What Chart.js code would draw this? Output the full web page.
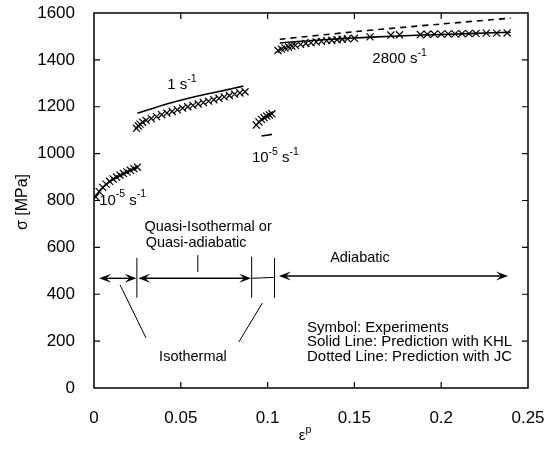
<!DOCTYPE html>
<html>
<head>
<meta charset="utf-8">
<script src="https://cdn.jsdelivr.net/npm/chart.js"></script>
<style>
    body { margin: 0; background: #fff; }
    #wrap { width: 559px; height: 450px; }
</style>
</head>
<body>
<div id="wrap"><canvas id="stressChart" width="559" height="450"></canvas></div>
<script>
    // tick labels
    const xTicks = [0, 0.05, 0.1, 0.15, 0.2, 0.25];
    const yTicks = [0, 200, 400, 600, 800, 1000, 1200, 1400, 1600];

    // 10^-5 s^-1 (first loading)
    const expAx = [0.001, 0.003, 0.005, 0.007, 0.009, 0.011, 0.013, 0.015, 0.017, 0.019, 0.021, 0.023, 0.025];
    const expAy = [815, 838, 856, 870, 882, 892, 900, 908, 915, 922, 929, 936, 942];
    const khlAx = [0.0, 0.005, 0.01, 0.015, 0.02, 0.025];
    const khlAy = [810, 855, 885, 905, 925, 942];

    // 1 s^-1
    const expBx = [0.0245, 0.0255, 0.0265, 0.028, 0.030, 0.033, 0.036, 0.039, 0.042, 0.045, 0.048, 0.051,
                   0.054, 0.057, 0.060, 0.063, 0.066, 0.069, 0.072, 0.075, 0.078, 0.081, 0.084, 0.087];
    const expBy = [1108, 1118, 1126, 1134, 1142, 1150, 1158, 1166, 1173, 1180, 1187, 1194,
                   1200, 1206, 1212, 1218, 1224, 1230, 1236, 1242, 1248, 1254, 1259, 1264];
    const khlBx = [0.025, 0.035, 0.045, 0.055, 0.065, 0.075, 0.086];
    const khlBy = [1172, 1196, 1218, 1237, 1254, 1270, 1288];

    // 10^-5 s^-1 (reloading)
    const expCx = [0.0935, 0.095, 0.0965, 0.098, 0.0995, 0.101, 0.1025];
    const expCy = [1122, 1135, 1146, 1153, 1160, 1165, 1170];
    const khlCx = [0.0965, 0.1025];
    const khlCy = [1075, 1082];

    // 2800 s^-1
    const expDx = [0.106, 0.108, 0.110, 0.112, 0.114, 0.116, 0.119, 0.122, 0.125, 0.128, 0.131, 0.134, 0.137, 0.140,
                   0.143, 0.146, 0.150, 0.159, 0.171, 0.176, 0.188, 0.192, 0.196, 0.200, 0.204, 0.208, 0.212,
                   0.216, 0.220, 0.226, 0.232, 0.238];
    const expDy = [1440, 1446, 1451, 1455, 1459, 1462, 1466, 1470, 1473, 1476, 1479, 1482, 1484, 1486,
                   1488, 1490, 1492, 1498, 1506, 1507, 1508, 1509, 1510, 1510, 1511, 1511, 1512,
                   1512, 1513, 1514, 1514, 1515];
    const khlDx = [0.107, 0.13, 0.16, 0.19, 0.22, 0.24];
    const khlDy = [1472, 1485, 1497, 1506, 1513, 1518];
    const jcDx = [0.107, 0.15, 0.2, 0.24];
    const jcDy = [1488, 1520, 1553, 1578];

    function pts(xs, ys) { return xs.map((x, i) => ({x: x, y: ys[i]})); }

    function markers(xs, ys) {
        return { data: pts(xs, ys), showLine: false, pointStyle: 'crossRot', pointRadius: 5,
                 borderColor: '#000', borderWidth: 1.2, backgroundColor: '#000' };
    }
    function curve(xs, ys, dash) {
        return { data: pts(xs, ys), showLine: true, pointRadius: 0, borderColor: '#000',
                 borderWidth: 1.6, borderDash: dash || [], tension: 0.3 };
    }

    // annotation arrows / lines (data coords)
    const arrows = [
        [0.003, 0.0245, 468],
        [0.0255, 0.0905, 468],
        [0.1065, 0.2385, 478]
    ];
    const plainLines = [
        [0.0905, 468, 0.104, 472],
        [0.0247, 555, 0.0247, 385],
        [0.0908, 560, 0.0908, 385],
        [0.104, 555, 0.104, 385],
        [0.0598, 567, 0.0598, 495],
        [0.015, 440, 0.030, 213],
        [0.097, 363, 0.0834, 196]
    ];

    const FONT = '"Liberation Sans", Arial, sans-serif';

    function drawParts(ctx, parts, x, y, size, align) {
        // parts: [text, isSup]
        let w = 0;
        parts.forEach(p => {
            ctx.font = (p[1] ? size * 0.7 : size) + 'px ' + FONT;
            w += ctx.measureText(p[0]).width;
        });
        let cx = align === 'left' ? x : x - w / 2;
        parts.forEach(p => {
            ctx.font = (p[1] ? size * 0.7 : size) + 'px ' + FONT;
            ctx.fillText(p[0], cx, p[1] ? y - size * 0.4 : y);
            cx += ctx.measureText(p[0]).width;
        });
    }

    function arrowHead(ctx, x, y, dir) {
        ctx.beginPath();
        ctx.moveTo(x, y);
        ctx.lineTo(x - dir * 12, y - 4.5);
        ctx.lineTo(x - dir * 7, y);
        ctx.lineTo(x - dir * 12, y + 4.5);
        ctx.closePath();
        ctx.fill();
    }

    const decor = {
        id: 'decor',
        afterDatasetsDraw(chart) {
            const ctx = chart.ctx;
            const xs = chart.scales.x, ys = chart.scales.y;
            const a = chart.chartArea;
            const px = v => xs.getPixelForValue(v), py = v => ys.getPixelForValue(v);
            ctx.save();
            ctx.strokeStyle = '#000';
            ctx.fillStyle = '#000';
            // frame
            ctx.lineWidth = 1.5;
            ctx.strokeRect(a.left, a.top, a.right - a.left, a.bottom - a.top);
            // inward ticks on all sides
            ctx.lineWidth = 1.2;
            ctx.beginPath();
            xTicks.slice(1, -1).forEach(v => {
                ctx.moveTo(px(v), a.bottom); ctx.lineTo(px(v), a.bottom - 6);
                ctx.moveTo(px(v), a.top); ctx.lineTo(px(v), a.top + 6);
            });
            yTicks.slice(1, -1).forEach(v => {
                ctx.moveTo(a.left, py(v)); ctx.lineTo(a.left + 6, py(v));
                ctx.moveTo(a.right, py(v)); ctx.lineTo(a.right - 6, py(v));
            });
            ctx.stroke();

            // arrows
            ctx.lineWidth = 1.4;
            arrows.forEach(r => {
                const x1 = px(r[0]), x2 = px(r[1]), y = py(r[2]);
                ctx.beginPath(); ctx.moveTo(x1 + 4, y); ctx.lineTo(x2 - 4, y); ctx.stroke();
                arrowHead(ctx, x1, y, -1);
                arrowHead(ctx, x2, y, 1);
            });
            ctx.lineWidth = 1;
            plainLines.forEach(l => {
                ctx.beginPath(); ctx.moveTo(px(l[0]), py(l[1])); ctx.lineTo(px(l[2]), py(l[3])); ctx.stroke();
            });

            // text labels
            ctx.textBaseline = 'middle';
            ctx.textAlign = 'left';
            drawParts(ctx, [['1 s', 0], ['-1', 1]], px(0.0507), py(1293), 15);
            drawParts(ctx, [['2800 s', 0], ['-1', 1]], px(0.176), py(1405), 15);
            drawParts(ctx, [['10', 0], ['-5', 1], [' s', 0], ['-1', 1]], px(0.0165), py(800), 15);
            drawParts(ctx, [['10', 0], ['-5', 1], [' s', 0], ['-1', 1]], px(0.1045), py(980), 15);
            drawParts(ctx, [['Quasi-Isothermal or', 0]], px(0.0657), py(687), 14.5);
            drawParts(ctx, [['Quasi-adiabatic', 0]], px(0.0588), py(619), 14.5);
            drawParts(ctx, [['Isothermal', 0]], px(0.057), py(132), 14.5);
            drawParts(ctx, [['Adiabatic', 0]], px(0.1532), py(555), 14.5);
            drawParts(ctx, [['Symbol: Experiments', 0]], px(0.1227), py(258), 15, 'left');
            drawParts(ctx, [['Solid Line: Prediction with KHL', 0]], px(0.1227), py(196), 15, 'left');
            drawParts(ctx, [['Dotted Line: Prediction with JC', 0]], px(0.1227), py(132), 15, 'left');

            // axis titles
            drawParts(ctx, [['\u03b5', 0], ['p', 1]], (a.left + a.right) / 2 - 6, 436, 15);
            ctx.translate(23, 202);
            ctx.rotate(-Math.PI / 2);
            drawParts(ctx, [['\u03c3 [MPa]', 0]], 0, 0, 16);
            ctx.restore();
        }
    };

    new Chart(document.getElementById('stressChart'), {
        type: 'scatter',
        data: {
            datasets: [
                markers(expAx, expAy), curve(khlAx, khlAy),
                markers(expBx, expBy), curve(khlBx, khlBy),
                markers(expCx, expCy), curve(khlCx, khlCy),
                markers(expDx, expDy), curve(khlDx, khlDy), curve(jcDx, jcDy, [6, 5])
            ]
        },
        options: {
            responsive: false,
            animation: false,
            layout: { padding: { top: 13, right: 31, left: 0, bottom: 0 } },
            plugins: { legend: { display: false }, tooltip: { enabled: false } },
            scales: {
                x: {
                    type: 'linear', min: 0, max: 0.25,
                    afterBuildTicks: s => { s.ticks = xTicks.map(v => ({value: v})); },
                    afterFit: s => { s.height = 62; s.paddingLeft = 0; s.paddingRight = 0; },
                    grid: { display: false }, border: { display: false },
                    ticks: { color: '#000', padding: 12, font: { family: FONT, size: 17 },
                             callback: v => String(v) }
                },
                y: {
                    min: 0, max: 1600,
                    afterBuildTicks: s => { s.ticks = yTicks.map(v => ({value: v})); },
                    afterFit: s => { s.width = 94; s.paddingTop = 0; s.paddingBottom = 0; },
                    grid: { display: false }, border: { display: false },
                    ticks: { color: '#000', padding: 11, font: { family: FONT, size: 17 },
                             callback: v => String(v) }
                }
            }
        },
        plugins: [decor]
    });
</script>
</body>
</html>
